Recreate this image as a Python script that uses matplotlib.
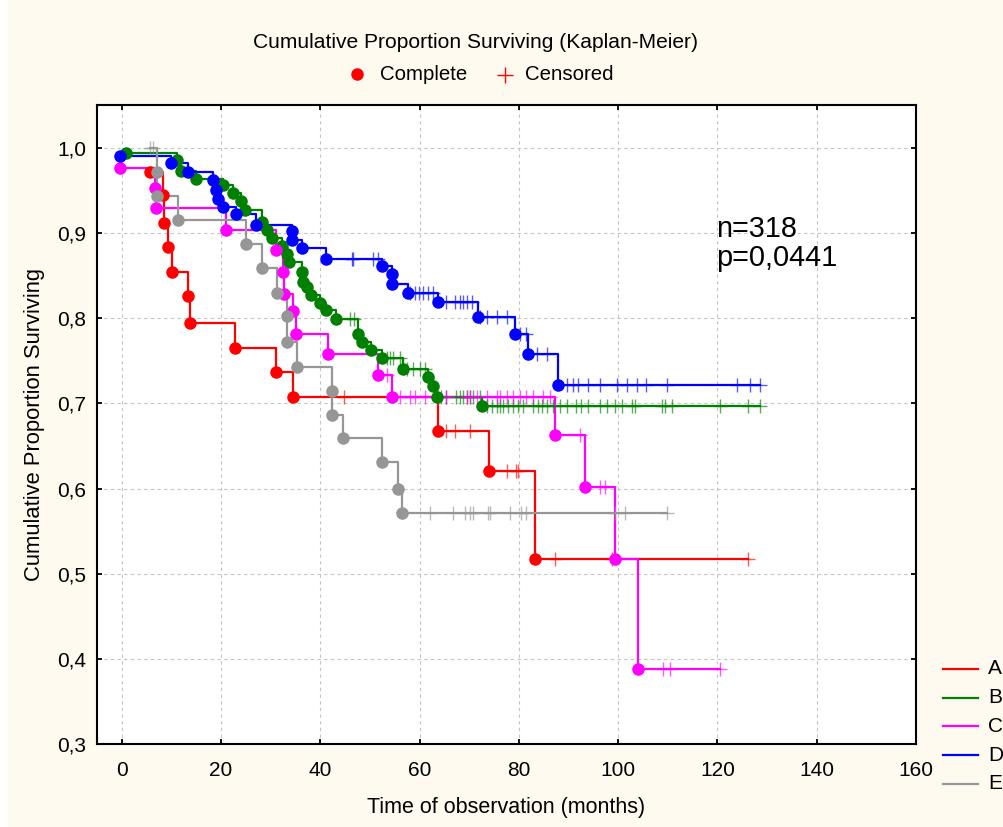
import numpy as np
import matplotlib
matplotlib.use("Agg")
import matplotlib.pyplot as plt
from matplotlib.lines import Line2D
from matplotlib.patches import Rectangle
from matplotlib.ticker import FuncFormatter

plt.rcParams['font.family'] = ['Liberation Sans', 'DejaVu Sans']

# ---- data: events (time, survival after the event) and censored times per group ----
groups = ["A", "B", "C", "D", "E"]
colors = ["#FF0000", "#008000", "#FF00FF", "#0000FF", "#969696"]

A_event_t = [5.6, 8.3, 8.5, 9.3, 10.1, 13.3, 13.7, 22.8, 31.0, 34.5, 63.7, 73.9, 83.2]
A_event_s = [0.972, 0.945, 0.912, 0.884, 0.854, 0.826, 0.795, 0.765, 0.737, 0.708, 0.668, 0.621, 0.517]
A_cens = [44.7, 65.4, 67.1, 70.1, 77.5, 79.5, 79.9, 87.3, 98.7, 126.2]

B_event_t = [0.9, 11.1, 12.0, 15.0, 20.4, 22.3, 24.1, 24.9, 28.3, 29.2, 30.2, 32.2, 33.2, 33.7,
             36.2, 36.5, 37.3, 38.2, 39.9, 41.1, 43.1, 47.6, 48.3, 50.3, 52.5, 56.6, 61.7, 62.6,
             63.5, 72.5]
B_event_s = [0.994, 0.986, 0.973, 0.964, 0.957, 0.947, 0.938, 0.927, 0.913, 0.904, 0.894, 0.885,
             0.875, 0.866, 0.854, 0.843, 0.837, 0.827, 0.818, 0.810, 0.799, 0.781, 0.772, 0.763,
             0.753, 0.741, 0.731, 0.720, 0.708, 0.697]
B_cens = [45.9, 46.8, 53.5, 54.0, 54.7, 56.0, 57.4, 58.7, 60.1, 61.1, 64.4, 65.4, 67.4, 68.1,
          68.8, 69.5, 70.1, 70.8, 72.1, 73.5, 74.5, 75.5, 76.2, 76.8, 77.9, 78.9, 79.9, 80.9,
          82.9, 83.9, 84.6, 85.6, 86.9, 88.3, 89.6, 91.6, 92.6, 94.0, 96.3, 97.7, 99.3, 100.7,
          102.7, 103.4, 108.8, 109.4, 110.8, 120.5, 126.2, 128.6]

C_event_t = [-0.4, 6.6, 6.9, 21.0, 31.0, 32.4, 32.7, 34.4, 35.1, 41.6, 51.6, 54.5, 87.3, 93.3,
             99.3, 104.0]
C_event_s = [0.976, 0.953, 0.929, 0.904, 0.880, 0.854, 0.829, 0.808, 0.782, 0.758, 0.733, 0.708,
             0.663, 0.602, 0.517, 0.388]
C_cens = [53.5, 56.0, 58.0, 59.0, 61.1, 63.4, 65.4, 69.5, 70.1, 71.5, 73.5, 75.5, 76.2, 77.5,
          78.9, 80.2, 81.5, 82.9, 84.9, 86.2, 92.3, 96.3, 97.3, 109.1, 110.4, 120.5]

D_event_t = [-0.4, 10.0, 13.4, 18.3, 18.9, 19.4, 20.3, 23.0, 27.1, 34.3, 34.3, 36.4, 41.2, 52.5,
             54.5, 54.5, 57.7, 63.7, 71.8, 79.2, 81.9, 87.9]
D_event_s = [0.991, 0.982, 0.972, 0.962, 0.951, 0.940, 0.931, 0.922, 0.910, 0.902, 0.892, 0.883,
             0.870, 0.861, 0.852, 0.840, 0.830, 0.819, 0.802, 0.781, 0.758, 0.722]
D_cens = [46.3, 46.6, 50.6, 51.7, 58.0, 59.0, 59.9, 60.7, 61.7, 62.7, 65.4, 67.1, 68.1, 68.8,
          69.5, 70.5, 72.1, 73.5, 75.5, 77.5, 80.2, 81.5, 83.6, 85.6, 89.6, 90.9, 91.9, 94.0,
          96.3, 99.7, 101.7, 103.7, 105.7, 109.8, 123.9, 126.5, 128.6]

E_event_t = [7.0, 7.0, 11.3, 25.0, 28.3, 31.2, 33.2, 33.2, 35.2, 42.4, 42.4, 44.5, 52.5, 55.7, 56.5]
E_event_s = [0.972, 0.944, 0.915, 0.887, 0.859, 0.830, 0.803, 0.772, 0.743, 0.715, 0.686, 0.659,
             0.631, 0.599, 0.571]
E_cens = [5.6, 6.3, 62.1, 66.8, 69.1, 70.1, 70.8, 73.8, 74.2, 78.2, 80.5, 81.5, 99.3, 101.4, 109.8]

series = {
    "A": (A_event_t, A_event_s, A_cens),
    "B": (B_event_t, B_event_s, B_cens),
    "C": (C_event_t, C_event_s, C_cens),
    "D": (D_event_t, D_event_s, D_cens),
    "E": (E_event_t, E_event_s, E_cens),
}

n_total = 318
p_value = "0,0441"

x_ticks = [0, 20, 40, 60, 80, 100, 120, 140, 160]
y_ticks = [0.3, 0.4, 0.5, 0.6, 0.7, 0.8, 0.9, 1.0]

CREAM = "#FEFAF0"

fig = plt.figure(figsize=(10.04, 8.27), dpi=100, facecolor="white")
fig.patches.append(Rectangle((8 / 1004, 0), 1 - 8 / 1004, 1, transform=fig.transFigure,
                             facecolor=CREAM, edgecolor="none", zorder=-10))

ax = fig.add_axes([97 / 1004, 1 - 744 / 827, (916 - 97) / 1004, (744 - 105) / 827])
ax.set_facecolor("white")
ax.set_xlim(-5, 160)
ax.set_ylim(0.3, 1.0505)


def km_path(ev_t, ev_s, cens):
    """Merge events and censorings into a step path; censor marks sit on the current level."""
    obs = [(t, s, 0) for t, s in zip(ev_t, ev_s)] + [(t, None, 1) for t in cens]
    obs.sort(key=lambda o: (o[0], o[2]))
    level = 1.0
    xs, ys, cx, cy = [], [], [], []
    for t, s, is_c in obs:
        if is_c:
            cx.append(t)
            cy.append(level)
        else:
            level = s
        xs.append(t)
        ys.append(level)
    return xs, ys, cx, cy


for g, col in zip(groups, colors):
    ev_t, ev_s, cens = series[g]
    xs, ys, cx, cy = km_path(ev_t, ev_s, cens)
    ax.plot(xs, ys, drawstyle="steps-post", color=col, lw=1.6, zorder=3)
    ax.plot(cx, cy, ls="none", marker="+", ms=10, mew=1.0, color=col, alpha=0.65, zorder=4)
    ax.plot(ev_t, ev_s, ls="none", marker="o", ms=8, color=col, mec=col, zorder=5)

ax.set_xticks(x_ticks)
ax.set_yticks(y_ticks)
ax.yaxis.set_major_formatter(FuncFormatter(lambda v, _: f"{v:.1f}".replace(".", ",")))
ax.tick_params(direction="in", top=True, right=True, length=3.5, width=1.3,
               labelsize=15, colors="black")
ax.tick_params(axis="y", pad=8)
ax.tick_params(axis="x", pad=12)
ax.grid(True, color="#C4C4C4", ls=(0, (3, 3)), lw=0.8, zorder=0)
for sp in ax.spines.values():
    sp.set_linewidth(1.5)

ax.set_xlabel("Time of observation (months)", fontsize=15.5)
ax.xaxis.label.set(va="center")
ax.xaxis.set_label_coords(0.5, (744 - 808) / (744 - 105))
ax.set_ylabel("Cumulative Proportion Surviving", fontsize=15.8)
ax.yaxis.label.set(rotation_mode="default", va="center", ha="center")
ax.yaxis.set_label_coords((35 - 97) / (916 - 97), 0.5)

ax.text(119.7, 0.896, f"n={n_total}", fontsize=20.8, ha="left", va="baseline")
ax.text(119.7, 0.861, f"p={p_value}", fontsize=20.8, ha="left", va="baseline")

# title and marker legend at the top
fig.text(476 / 1004, 1 - 42 / 827, "Cumulative Proportion Surviving (Kaplan-Meier)",
         fontsize=15.1, ha="center", va="center")
fig.add_artist(Line2D([356.7 / 1004], [1 - 74 / 827], marker="o", ms=8, color="#FF0000",
                      ls="none", transform=fig.transFigure))
fig.text(380 / 1004, 1 - 75 / 827, "Complete", fontsize=14.7, ha="left", va="center")
fig.add_artist(Line2D([505 / 1004], [1 - 75 / 827], marker="+", ms=12, mew=1.0, color="#FF0000",
                      ls="none", transform=fig.transFigure))
fig.text(525 / 1004, 1 - 75 / 827, "Censored", fontsize=14.7, ha="left", va="center")

# group legend at the lower right
for i, (g, col) in enumerate(zip(groups, colors)):
    yy = 1 - (669 + i * 28.7) / 827
    fig.add_artist(Line2D([943 / 1004, 978 / 1004], [yy, yy], color=col, lw=1.6,
                          transform=fig.transFigure))
    fig.text(988 / 1004, yy, g, fontsize=15, ha="left", va="center")

fig.savefig("out.png", dpi=100, facecolor=fig.get_facecolor())
